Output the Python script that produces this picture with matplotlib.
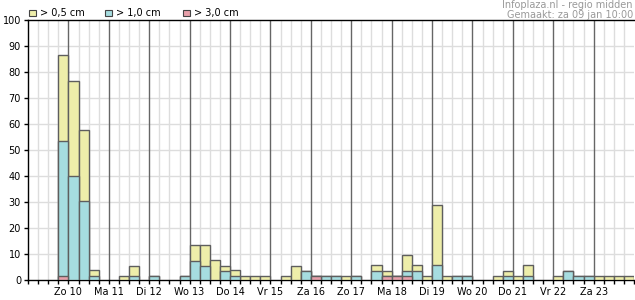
import matplotlib
matplotlib.use("Agg")
import matplotlib.pyplot as plt
from matplotlib.patches import Rectangle

# kans op neerslag (%) per 6-uurs blok, 60 blokken
snow_05 = [0, 0, 0, 86.5, 76.7, 57.6, 3.8, 0, 0, 1.7,
           5.5, 0, 1.7, 0, 0, 1.7, 13.3, 13.3, 7.6, 5.5,
           3.7, 1.7, 1.7, 1.7, 0, 1.7, 5.5, 3.6, 1.7, 1.7,
           1.7, 1.7, 1.7, 0, 5.6, 3.6, 1.7, 9.5, 5.6, 1.7,
           28.7, 1.7, 1.7, 1.7, 0, 0, 1.7, 3.6, 1.7, 5.6,
           0, 0, 1.7, 3.6, 1.7, 1.7, 1.7, 1.7, 1.7, 1.7]
snow_10 = [0, 0, 0, 53.6, 40.1, 30.5, 1.7, 0, 0, 0,
           1.7, 0, 1.7, 0, 0, 1.7, 7.4, 5.5, 0, 3.6,
           1.7, 0, 0, 0, 0, 0, 0, 3.6, 1.7, 1.7,
           1.7, 0, 1.7, 0, 3.6, 1.7, 1.7, 3.6, 3.6, 0,
           5.6, 0, 1.7, 1.7, 0, 0, 0, 1.7, 0, 1.7,
           0, 0, 0, 3.6, 1.7, 1.7, 0, 0, 0, 0]
snow_30 = [0, 0, 0, 1.7, 0, 0, 0, 0, 0, 0,
           0, 0, 0, 0, 0, 0, 0, 0, 0, 0,
           0, 0, 0, 0, 0, 0, 0, 0, 1.7, 0,
           0, 0, 0, 0, 0, 1.7, 1.7, 1.7, 0, 0,
           0, 0, 0, 0, 0, 0, 0, 0, 0, 0,
           0, 0, 0, 0, 0, 0, 0, 0, 0, 0]
day_labels = ["Zo 10", "Ma 11", "Di 12", "Wo 13", "Do 14", "Vr 15", "Za 16",
              "Zo 17", "Ma 18", "Di 19", "Wo 20", "Do 21", "Vr 22", "Za 23"]
legend_labels = ["> 0,5 cm", "> 1,0 cm", "> 3,0 cm"]

c_yellow = "#eeeeaa"
c_blue = "#a6dde0"
c_pink = "#e8a0aa"
edge = "#5e5e5e"

plt.rcParams['font.family'] = ['DejaVu Sans']
fig = plt.figure(figsize=(6.35, 3.0), dpi=100)
ax = fig.add_axes([28/635, 20/300, 606/635, 260/300])

n = len(snow_05)
xs = [i + 0.5 for i in range(n)]
day_pos = [4 * (i + 1) for i in range(len(day_labels))]

# raster
ax.vlines([i for i in range(1, n) if i % 4 != 0], 0, 100, color="#dddddd", lw=1, zorder=1)
ax.hlines(range(10, 100, 10), 0, n, color="#dddddd", lw=1, zorder=1)
ax.vlines(day_pos, 0, 100, color="#666666", lw=1, zorder=2)

for vals, col, z in [(snow_05, c_yellow, 3), (snow_10, c_blue, 4), (snow_30, c_pink, 5)]:
    h = [v if v > 0 else 0 for v in vals]
    ax.bar([x for x, v in zip(xs, h) if v > 0], [v for v in h if v > 0], width=1,
           color=col, edgecolor=edge, linewidth=1.0, zorder=z)

ax.set_xlim(0, n)
ax.set_ylim(0, 100)
ax.set_yticks(range(0, 101, 10))
ax.set_xticks(day_pos, day_labels)
ax.set_xticks(range(0, n + 1), minor=True)
ax.tick_params(axis="both", which="both", length=3, width=1, color="black",
               labelsize=7, pad=2)
ax.tick_params(axis="x", which="major", length=3)
for s in ["left", "bottom", "top"]:
    ax.spines[s].set_color("black")
    ax.spines[s].set_linewidth(1)
ax.spines["right"].set_visible(False)

# legenda
lx = [29, 105, 183]
for x0, lab, col in zip(lx, legend_labels, [c_yellow, c_blue, c_pink]):
    fig.patches.append(Rectangle((x0/635, 1 - 16/300), 7/635, 6/300, transform=fig.transFigure,
                                 facecolor=col, edgecolor="#444444", lw=0.8))
    fig.text((x0 + 11)/635, 1 - 13/300, lab, fontsize=7, va="center", ha="left")

fig.text(633/635, 1 - 5/300, "Infoplaza.nl - regio midden", fontsize=7, color="#999999",
         ha="right", va="center")
fig.text(633/635, 1 - 14.5/300, "Gemaakt: za 09 jan 10:00", fontsize=7, color="#999999",
         ha="right", va="center")

fig.savefig("out.png", dpi=100)
